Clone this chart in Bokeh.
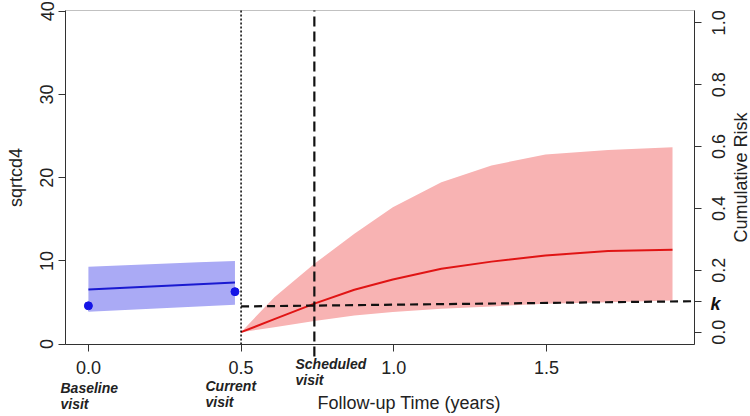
import math
from bokeh.plotting import figure
from bokeh.models import (Range1d, LinearAxis, FixedTicker, NumeralTickFormatter,
                          Label, BoxAnnotation, ColumnDataSource)
from bokeh.embed import file_html
from bokeh.resources import INLINE

# ---------------- data ----------------
# longitudinal marker (left axis, sqrtcd4)
blue_t = [0.0, 0.12, 0.24, 0.36, 0.48]
blue_fit = [6.57, 6.78, 6.99, 7.2, 7.41]
blue_upper = [9.29, 9.47, 9.65, 9.83, 10.0]
blue_lower = [3.9, 4.11, 4.32, 4.53, 4.74]
obs_t = [0.0, 0.48]
obs_y = [4.6, 6.3]

# cumulative risk (right axis)
risk_t = [0.5, 0.609, 0.74, 0.871, 0.997, 1.156, 1.32, 1.497, 1.702, 1.913]
risk_mean = [0.0, 0.042, 0.092, 0.137, 0.17, 0.205, 0.228, 0.248, 0.262, 0.266]
risk_upper = [0.0, 0.113, 0.221, 0.318, 0.404, 0.485, 0.539, 0.574, 0.589, 0.598]
risk_lower = [0.0, 0.016, 0.036, 0.054, 0.065, 0.076, 0.083, 0.092, 0.097, 0.102]

current_visit = 0.5
scheduled_visit = 0.74
k_value = 0.1
k_line_risk = [0.083, 0.100]

x_ticks = [0.0, 0.5, 1.0, 1.5]
y_ticks = [0, 10, 20, 30, 40]
risk_ticks = [0.0, 0.2, 0.4, 0.6, 0.8, 1.0]
risk_tick_labels = ["0.0", "0.2", "0.4", "0.6", "0.8", "1.0"]

# ---------------- plot box geometry ----------------
W, H = 750, 416
BOX_L, BOX_R, BOX_T, BOX_B = 65, 694, 10, 344      # pixel edges of the drawn box
x_box = (-0.075, 1.985)
y_box = (-0.05, 40.1)
r_box = (-0.04, 1.04)


def full_range(lo, hi, pix_lo_margin, pix_hi_margin, pix_len):
    per = (hi - lo) / pix_len
    return lo - pix_lo_margin * per, hi + pix_hi_margin * per


xr = full_range(*x_box, BOX_L, W - BOX_R, BOX_R - BOX_L)
yr = full_range(*y_box, H - BOX_B, BOX_T, BOX_B - BOX_T)
rr = full_range(*r_box, H - BOX_B, BOX_T, BOX_B - BOX_T)
y_per_px = (y_box[1] - y_box[0]) / (BOX_B - BOX_T)

FONT = "Liberation Sans"
TXT = "#222222"
AX = "#333333"

p = figure(width=W, height=H, output_backend="svg", toolbar_location=None,
           x_range=Range1d(*xr), y_range=Range1d(*yr), min_border=0)
p.extra_y_ranges = {"risk": Range1d(*rr)}
p.grid.visible = False
p.outline_line_color = None
p.background_fill_color = "white"
p.border_fill_color = "white"

# bottom axis (fixed at the box bottom)
xa = p.xaxis[0]
xa.fixed_location = y_box[0]
xa.bounds = x_box
xa.ticker = FixedTicker(ticks=x_ticks)
xa.formatter = NumeralTickFormatter(format="0.0")
xa.major_tick_in = 0
xa.major_tick_out = 7
xa.minor_tick_line_color = None
xa.axis_line_color = AX
xa.major_tick_line_color = AX
xa.major_label_text_font = FONT
xa.major_label_text_font_size = "18px"
xa.major_label_text_color = TXT
xa.major_label_standoff = 9

# left axis
ya = p.yaxis[0]
ya.fixed_location = x_box[0]
ya.bounds = y_box
ya.ticker = FixedTicker(ticks=y_ticks)
ya.major_tick_in = 0
ya.major_tick_out = 7
ya.minor_tick_line_color = None
ya.axis_line_color = AX
ya.major_tick_line_color = AX
ya.major_label_text_font = FONT
ya.major_label_text_font_size = "18px"
ya.major_label_text_color = TXT
ya.major_label_orientation = "parallel"
ya.major_label_standoff = 5

# right axis (risk); its labels are written as rotated labels below
ra = LinearAxis(y_range_name="risk", fixed_location=x_box[1], bounds=r_box,
                ticker=FixedTicker(ticks=risk_ticks + [k_value]))
ra.major_label_overrides = {t: "" for t in risk_ticks + [k_value]}
ra.major_tick_in = 0
ra.major_tick_out = 7
ra.minor_tick_line_color = None
ra.axis_line_color = AX
ra.major_tick_line_color = AX
p.add_layout(ra, "right")

# plot box
p.add_layout(BoxAnnotation(left=x_box[0], right=x_box[1], bottom=y_box[0], top=y_box[1],
                           fill_color=None, line_color=AX, line_width=1))

# ---------------- marks ----------------
bsrc = ColumnDataSource(dict(t=blue_t, fit=blue_fit, up=blue_upper, lo=blue_lower))
p.varea(x="t", y1="lo", y2="up", source=bsrc, fill_color="#aaaaf5", fill_alpha=1)
p.line(x="t", y="fit", source=bsrc, line_color="#1a1ad0", line_width=2)
p.scatter(x=obs_t, y=obs_y, size=8, fill_color="#1414e6", line_color="#1414e6")

rsrc = ColumnDataSource(dict(t=risk_t, m=risk_mean, up=risk_upper, lo=risk_lower))
p.varea(x="t", y1="lo", y2="up", source=rsrc, fill_color="#f8b3b3", fill_alpha=1,
        y_range_name="risk")
p.line(x="t", y="m", source=rsrc, line_color="#e01414", line_width=2,
       y_range_name="risk")

# current visit (dotted), scheduled visit (dashed, reaching a little below the box)
p.line(x=[current_visit, current_visit], y=list(y_box), line_color="#000000",
       line_width=1.5, line_dash="2 2")
p.line(x=[scheduled_visit, scheduled_visit], y=[y_box[0] - 12 * y_per_px, y_box[1]],
       line_color="#111111", line_width=2.2, line_dash="10 5")
# threshold k line
p.line(x=[current_visit, x_box[1]], y=k_line_risk, y_range_name="risk",
       line_color="#111111", line_width=2.2, line_dash="8 5")

# ---------------- text ----------------
def lab(text, x, y, size="14px", style="bold italic", angle=0, align="left",
        baseline="alphabetic"):
    p.add_layout(Label(x=x, y=y, x_units="screen", y_units="screen", text=text,
                       text_font=FONT, text_font_size=size, text_font_style=style,
                       text_color=TXT, angle=angle, text_align=align,
                       text_baseline=baseline))

lab("Baseline", 60, 28.5)
lab("visit", 60, 13)
lab("Current", 205, 30.5)
lab("visit", 205, 14.5)
lab("Scheduled", 295, 53)
lab("visit", 295, 37)
lab("Follow-up Time (years)", 317, 14, size="18px", style="normal")
lab("sqrtcd4", 15.5, 239, size="18px", style="normal", angle=math.pi / 2, align="center")
lab("Cumulative Risk", 740, 239, size="18px", style="normal", angle=math.pi / 2,
    align="center")

for t, s in zip(risk_ticks, risk_tick_labels):
    p.add_layout(Label(x=717.5, y=t, x_units="screen", y_range_name="risk", text=s,
                       text_font=FONT, text_font_size="18px", text_color=TXT,
                       angle=math.pi / 2, text_align="center",
                       text_baseline="alphabetic"))

p.add_layout(Label(x=715, y=k_value, x_units="screen", y_range_name="risk",
                   y_offset=-3, text="k", text_font=FONT, text_font_size="18px",
                   text_font_style="bold italic", text_color="#111111",
                   text_align="center", text_baseline="middle"))

open("out.html", "w").write(file_html(p, INLINE))
